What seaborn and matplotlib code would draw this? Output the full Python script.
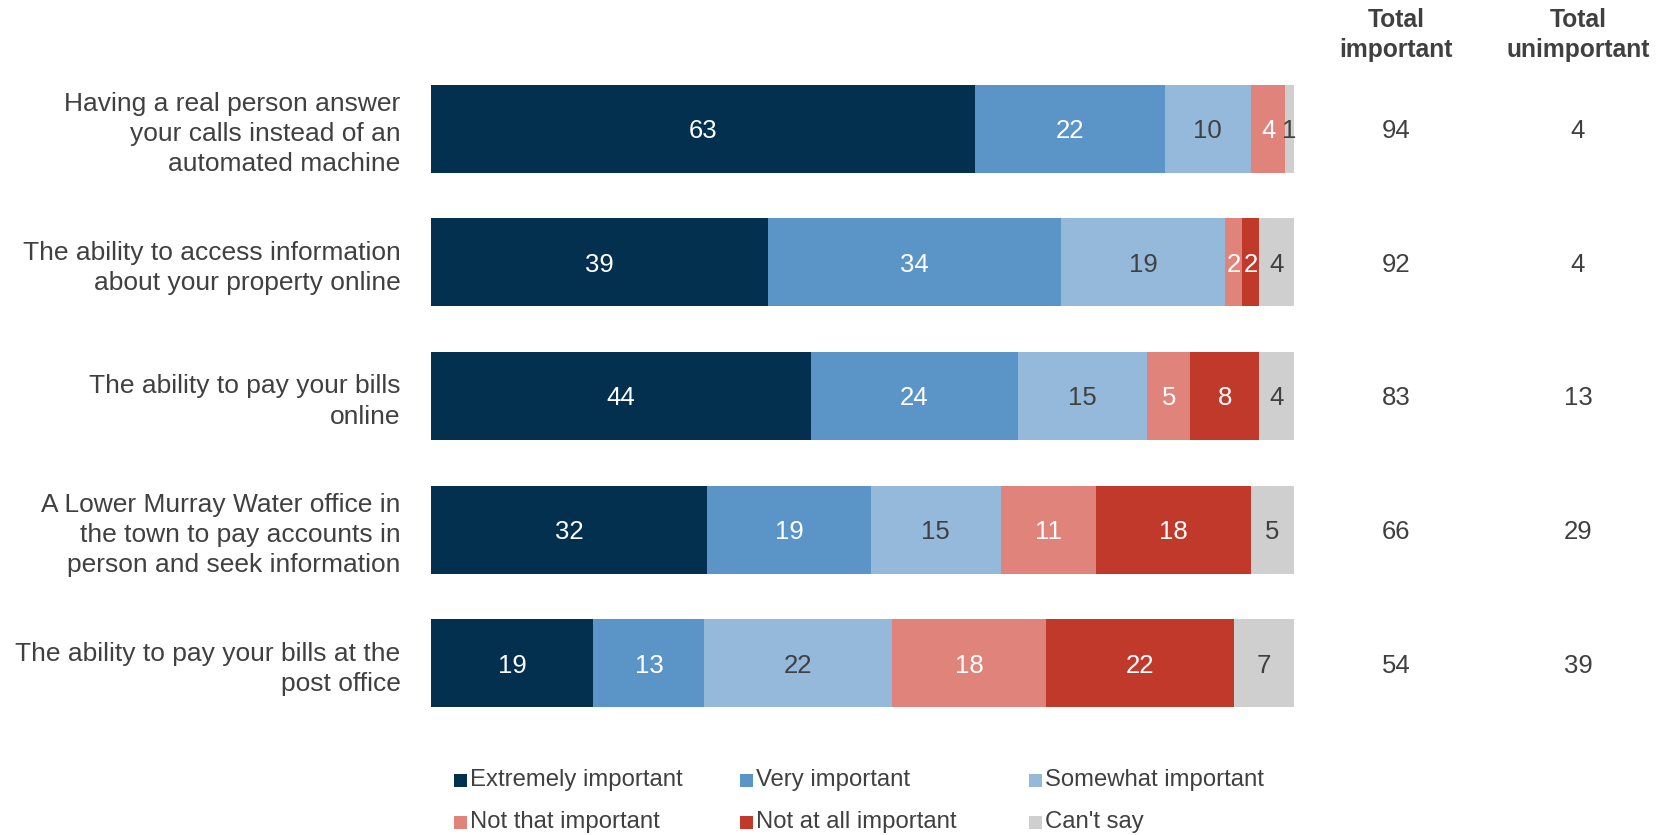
import numpy as np
import pandas as pd
import seaborn as sns
import matplotlib.pyplot as plt
import matplotlib.transforms as mtransforms
from matplotlib.patches import Rectangle

# Survey statements (rows, top to bottom)
statements = [
    "Having a real person answer\nyour calls instead of an\nautomated machine",
    "The ability to access information\nabout your property online",
    "The ability to pay your bills\nonline",
    "A Lower Murray Water office in\nthe town to pay accounts in\nperson and seek information",
    "The ability to pay your bills at the\npost office",
]

levels = [
    "Extremely important",
    "Very important",
    "Somewhat important",
    "Not that important",
    "Not at all important",
    "Can't say",
]

# Percentages per response level
extremely = [63, 39, 44, 32, 19]
very = [22, 34, 24, 19, 13]
somewhat = [10, 19, 15, 15, 22]
not_that = [4, 2, 5, 11, 18]
not_at_all = [0, 2, 8, 18, 22]
cant_say = [1, 4, 4, 5, 7]

total_important = [94, 92, 83, 66, 54]
total_unimportant = [4, 4, 13, 29, 39]

colors = ["#03304F", "#5B95C8", "#95B9DB", "#E0837A", "#C0392B", "#D0CFCF"]
text_colors = ["white", "white", "#404040", "white", "white", "#404040"]
grey = "#404040"

sns.set_theme(style="white")
plt.rcParams["font.family"] = ["Liberation Sans", "DejaVu Sans"]

values = np.array([extremely, very, somewhat, not_that, not_at_all, cant_say], dtype=float).T
shares = values / values.sum(axis=1, keepdims=True) * 100
cum = np.cumsum(shares, axis=1)

df = pd.DataFrame({"statement": statements})
for j in range(len(levels)):
    df[f"cum{j}"] = cum[:, j]

fig = plt.figure(figsize=(16.75, 8.35), dpi=100)
ax = fig.add_axes([431 / 1675, 1 - 730 / 835, 863 / 1675, 668 / 835])

# Stacked bars: draw cumulative totals from the outermost segment inwards
for j in reversed(range(len(levels))):
    sns.barplot(data=df, x=f"cum{j}", y="statement", color=colors[j],
                saturation=1, width=0.66, orient="h", linewidth=0, ax=ax)

# Segment value labels
for i in range(len(statements)):
    for j in range(len(levels)):
        v = values[i, j]
        if v <= 0:
            continue
        left = cum[i, j] - shares[i, j]
        ax.text(left + shares[i, j] / 2, i, f"{v:.0f}", ha="center", va="center_baseline",
                fontsize=18.5, color=text_colors[j])

ax.set_xlim(0, 100)
ax.set_ylim(4.5, -0.5)
ax.set_xlabel("")
ax.set_ylabel("")
ax.set_xticks([])
for s in ax.spines.values():
    s.set_visible(False)
ax.tick_params(axis="y", length=0, pad=22, labelsize=19, labelcolor=grey)
for lab in ax.get_yticklabels():
    lab.set_linespacing(1.32)

# Totals columns
trans = mtransforms.blended_transform_factory(fig.transFigure, ax.transData)
col_x = [1396 / 1675, 1578 / 1675]
for i in range(len(statements)):
    ax.text(col_x[0], i, f"{total_important[i]}", transform=trans, ha="center",
            va="center_baseline", fontsize=18.5, color=grey)
    ax.text(col_x[1], i, f"{total_unimportant[i]}", transform=trans, ha="center",
            va="center_baseline", fontsize=18.5, color=grey)
fig.text(col_x[0], 1 - 35 / 835, "Total\nimportant", ha="center", va="center",
         fontsize=17.7, fontweight="bold", color=grey, linespacing=1.35)
fig.text(col_x[1], 1 - 35 / 835, "Total\nunimportant", ha="center", va="center",
         fontsize=17.7, fontweight="bold", color=grey, linespacing=1.35)

# Legend: 3 columns x 2 rows
leg_x = [454, 740, 1029]
leg_y = [780, 822]
sq = 13
for k, name in enumerate(levels):
    x = leg_x[k % 3]
    y = leg_y[k // 3]
    fig.patches.append(Rectangle((x / 1675, 1 - (y + sq / 2) / 835), sq / 1675, sq / 835,
                                 transform=fig.transFigure, facecolor=colors[k],
                                 edgecolor="none"))
    fig.text((x + sq + 3) / 1675, 1 - y / 835, name, ha="left", va="center",
             fontsize=17.2, color=grey)

fig.savefig("out.png", dpi=100)
